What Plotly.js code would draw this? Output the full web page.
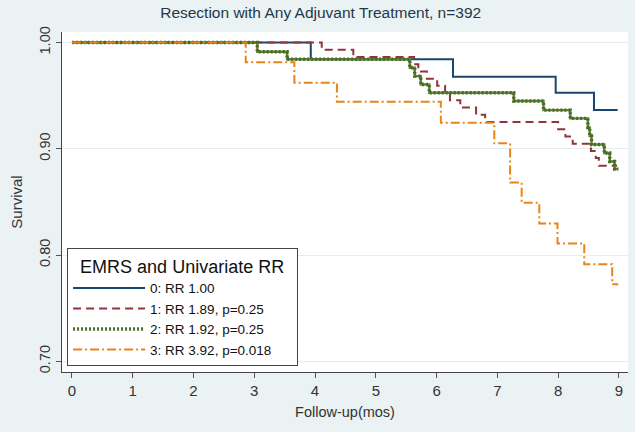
<!DOCTYPE html>
<html>
<head>
<meta charset="utf-8">
<script src="https://cdn.plot.ly/plotly-3.0.1.min.js"></script>
<style>html,body{margin:0;padding:0;background:#eaf2f3;}#chart{width:635px;height:432px;}</style>
</head>
<body>
<div id="chart"></div>
<script>
// Kaplan-Meier step data (months, survival)
const t0 = [0, 3.93, 6.27, 7.96, 8.59, 8.98];
const s0 = [1.000, 0.9842, 0.9678, 0.9527, 0.9364, 0.9364];

const t1 = [0, 4.11, 4.63, 5.63, 5.70, 5.84, 6.01, 6.14, 6.22, 6.39, 6.65, 6.80, 8.00, 8.12, 8.24, 8.54, 8.62, 8.67, 8.97];
const s1 = [1.000, 0.9932, 0.9864, 0.9796, 0.9728, 0.9660, 0.9592, 0.9524, 0.9456, 0.9388, 0.9320, 0.9252, 0.9184, 0.9116, 0.9048, 0.8980, 0.8912, 0.8840, 0.8840];

const t2 = [0, 3.05, 3.54, 5.56, 5.64, 5.74, 5.88, 7.27, 7.76, 8.20, 8.49, 8.52, 8.55, 8.76, 8.85, 8.93, 8.99];
const s2 = [1.000, 0.9913, 0.9842, 0.9763, 0.9684, 0.9605, 0.9527, 0.9449, 0.9364, 0.9286, 0.9200, 0.9120, 0.9040, 0.8960, 0.8880, 0.8810, 0.8810];

const t3 = [0, 2.86, 3.66, 4.36, 6.07, 6.95, 7.21, 7.40, 7.69, 7.99, 8.43, 8.89, 8.99];
const s3 = [1.000, 0.9814, 0.9621, 0.9442, 0.9245, 0.9051, 0.8683, 0.8491, 0.8297, 0.8109, 0.7914, 0.7725, 0.7725];

const names = ["0: RR 1.00", "1: RR 1.89, p=0.25", "2: RR 1.92, p=0.25", "3: RR 3.92, p=0.018"];
const legendTitle = "EMRS and Univariate RR";
const xTicks = [0,1,2,3,4,5,6,7,8,9];
const yTicks = [0.70, 0.80, 0.90, 1.00];
const yTickText = ["0.70", "0.80", "0.90", "1.00"];

const NB = "\u00a0";
const traces = [
  {x: t0, y: s0, name: names[0], mode: "lines", line: {shape: "hv", color: "#1a476f", width: 2}},
  {x: t1, y: s1, name: names[1], mode: "lines", line: {shape: "hv", color: "#90353b", width: 2, dash: "8px,5px"}},
  {x: t2, y: s2, name: names[2], mode: "lines", showlegend: false, line: {shape: "hv", color: "#5f8236", width: 2.4}},
  {x: t2, y: s2, name: names[2], mode: "lines", line: {shape: "hv", color: "#4a6b25", width: 3.4, dash: "2px,2px"}},
  {x: t3, y: s3, name: names[3], mode: "lines", line: {shape: "hv", color: "#e8851a", width: 2, dash: "9px,3px,2px,3px"}}
];

const layout = {
  width: 635, height: 432,
  paper_bgcolor: "#eaf2f3",
  plot_bgcolor: "#ffffff",
  margin: {l: 62, r: 7, t: 32, b: 60},
  font: {family: "Arial, 'Liberation Sans', sans-serif", color: "#333333"},
  title: {text: "Resection with Any Adjuvant Treatment, n=392", x: 0.505, xanchor: "center", y: 0.972, yanchor: "middle",
          font: {size: 15.5, color: "#24384a"}},
  showlegend: true,
  legend: {
    x: 0.009, y: 0.017, xanchor: "left", yanchor: "bottom",
    bgcolor: "#ffffff", bordercolor: "#444444", borderwidth: 1,
    font: {size: 13.5, color: "#111111"},
    title: {text: NB + NB + legendTitle + NB + NB, font: {size: 18, color: "#111111"}},
    itemwidth: 72, tracegroupgap: 0
  },
  xaxis: {
    range: [-0.164, 9.15], tickvals: xTicks, ticks: "outside", ticklen: 5, tickcolor: "#555",
    showgrid: false, zeroline: false, showline: true, linecolor: "#444", linewidth: 1,
    tickfont: {size: 15, color: "#333"},
    title: {text: "Follow-up(mos)", font: {size: 14.5, color: "#333"}, standoff: 8}
  },
  yaxis: {
    range: [0.6899, 1.0099], tickvals: yTicks, ticktext: yTickText, tickangle: -90,
    ticks: "outside", ticklen: 5, tickcolor: "#555",
    showgrid: true, gridcolor: "#e3ecee", gridwidth: 1,
    zeroline: false, showline: true, linecolor: "#444", linewidth: 1,
    tickfont: {size: 14.5, color: "#333"},
    title: {text: "Survival", font: {size: 15, color: "#333"}, standoff: 10}
  }
};

Plotly.newPlot("chart", traces, layout, {displayModeBar: false, staticPlot: true});
</script>
</body>
</html>
